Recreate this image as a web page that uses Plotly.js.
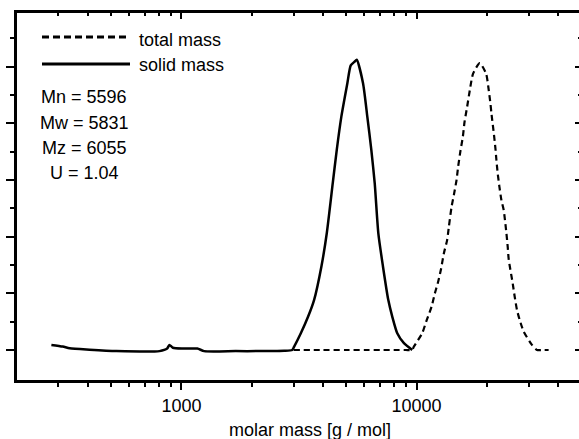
<!DOCTYPE html>
<html>
<head>
<meta charset="utf-8">
<script src="https://cdn.plot.ly/plotly-3.0.1.min.js"></script>
<style>
html, body { margin: 0; padding: 0; overflow: hidden; background: #fff; }
#chart { width: 590px; height: 439px; }
</style>
</head>
<body>
<div id="chart"></div>
<script>
// solid mass distribution (molar mass in g/mol, normalised signal)
const solidMass = [280, 313, 335, 407, 529, 807, 870, 889, 920, 1010, 1169, 1250, 1700, 2142, 2735, 2958, 3016, 3219, 3458, 3667, 3938, 4152, 4401, 4577, 4787, 5077, 5248, 5450, 5565, 5919, 6172, 6419, 6636, 6874, 7195, 7577, 7880, 8275, 8834, 9579];
const solidSignal = [0.018, 0.012, 0.006, 0.001, -0.004, -0.004, 0.005, 0.018, 0.008, 0.005, 0.005, -0.004, -0.004, -0.004, -0.003, 0.000, 0.012, 0.059, 0.118, 0.177, 0.295, 0.413, 0.589, 0.707, 0.824, 0.942, 1.005, 1.018, 1.025, 0.942, 0.824, 0.707, 0.589, 0.413, 0.295, 0.177, 0.118, 0.059, 0.024, 0.0];

// total mass distribution
const totalMass = [3000, 4000, 5000, 6000, 7000, 8000, 9000, 9579, 9739, 10563, 10983, 11578, 11958, 12350, 12717, 13056, 13484, 13713, 14078, 14399, 14783, 15017, 15373, 15721, 15987, 16397, 16834, 17385, 18563, 19742, 20268, 20606, 20808, 21342, 21636, 21847, 22126, 22496, 22941, 23464, 24093, 24400, 24638, 25624, 26130, 26722, 27437, 28524, 30943, 32493, 34500, 36415];
const totalSignal = [0, 0, 0, 0, 0, 0, 0, 0, 0.012, 0.059, 0.1, 0.153, 0.2, 0.241, 0.288, 0.341, 0.388, 0.435, 0.505, 0.547, 0.600, 0.647, 0.705, 0.752, 0.805, 0.858, 0.917, 0.976, 1.013, 0.976, 0.917, 0.870, 0.835, 0.758, 0.711, 0.670, 0.623, 0.576, 0.529, 0.494, 0.412, 0.364, 0.320, 0.235, 0.188, 0.141, 0.106, 0.065, 0.018, 0, 0, 0];

// ticks
const xMajorTicks = [1000, 10000];
const xMajorLabels = ['1000', '10000'];
const xMinorTicks = [300, 400, 500, 600, 700, 800, 900, 2000, 3000, 4000, 5000, 6000, 7000, 8000, 9000, 20000, 30000, 40000];
const yMajorTicks = [0, 0.2, 0.4, 0.6, 0.8, 1.0];
const yMinorTicks = [0.1, 0.3, 0.5, 0.7, 0.9, 1.1];

// legend / statistics text
const seriesNames = ['total mass', 'solid mass'];
const statLines = ['Mn = 5596', 'Mw = 5831', 'Mz = 6055', 'U = 1.04'];
const axisTitle = 'molar mass [g / mol]';

const FONT = '"Liberation Sans", Arial, sans-serif';
const xRange = [Math.log10(200), Math.log10(50000)];
const yRange = [-0.106, 1.19];

const traces = [
  { x: solidMass, y: solidSignal, type: 'scatter', mode: 'lines', name: seriesNames[1],
    line: { color: '#000', width: 2.5, shape: 'spline', smoothing: 0.6 }, showlegend: false, hoverinfo: 'skip' },
  { x: totalMass, y: totalSignal, type: 'scatter', mode: 'lines', name: seriesNames[0],
    xaxis: 'x2', yaxis: 'y2',
    line: { color: '#000', width: 2.2, dash: '6px,4px', shape: 'spline', smoothing: 0.6 }, showlegend: false, hoverinfo: 'skip' }
];

const W = 590, H = 439, L = 17, R = 9, T = 13, B = 59;
const pw = W - L - R, ph = H - T - B;
const px = v => (v - L) / pw;
const py = v => (H - B - v) / ph;

const annotations = [
  { text: seriesNames[0], x: px(137), y: py(40), xanchor: 'left', yanchor: 'middle' },
  { text: seriesNames[1], x: px(137), y: py(65), xanchor: 'left', yanchor: 'middle' },
  { text: statLines[0], x: px(84), y: py(97), xanchor: 'center', yanchor: 'middle' },
  { text: statLines[1], x: px(84), y: py(123.5), xanchor: 'center', yanchor: 'middle' },
  { text: statLines[2], x: px(84), y: py(148), xanchor: 'center', yanchor: 'middle' },
  { text: statLines[3], x: px(84), y: py(173), xanchor: 'center', yanchor: 'middle' },
  { text: axisTitle, x: px(310), y: py(430), xanchor: 'center', yanchor: 'middle' }
].map(a => Object.assign({ xref: 'paper', yref: 'paper', showarrow: false,
  font: { family: FONT, size: 18, color: '#000' } }, a));

const shapes = [
  { type: 'line', xref: 'paper', yref: 'paper', x0: px(42), x1: px(130), y0: py(37), y1: py(37),
    line: { color: '#000', width: 3, dash: '7px,4px' } },
  { type: 'line', xref: 'paper', yref: 'paper', x0: px(42), x1: px(130), y0: py(64), y1: py(64),
    line: { color: '#000', width: 3 } }
];

const axCommon = { showgrid: false, zeroline: false, showline: true, linecolor: '#000', linewidth: 3,
  tickcolor: '#000', tickwidth: 2 };

const layout = {
  width: W, height: H,
  margin: { l: L, r: R, t: T, b: B, pad: 0 },
  paper_bgcolor: '#fff', plot_bgcolor: '#fff',
  showlegend: false,
  font: { family: FONT, size: 18, color: '#000' },
  xaxis: Object.assign({}, axCommon, {
    type: 'log', range: xRange, tickmode: 'array', tickvals: xMajorTicks, ticktext: xMajorLabels,
    ticks: 'outside', ticklen: 7,
    minor: { tickmode: 'array', tickvals: xMinorTicks, ticks: 'outside', ticklen: 4, tickwidth: 2, tickcolor: '#000', showgrid: false },
    tickfont: { family: FONT, size: 18, color: '#000' }
  }),
  yaxis: Object.assign({}, axCommon, {
    range: yRange, tickmode: 'array', tickvals: yMajorTicks, showticklabels: false,
    ticks: 'outside', ticklen: 8,
    minor: { tickmode: 'array', tickvals: yMinorTicks, ticks: 'outside', ticklen: 4, tickwidth: 2, tickcolor: '#000', showgrid: false }
  }),
  xaxis2: Object.assign({}, axCommon, {
    type: 'log', range: xRange, overlaying: 'x', side: 'top', tickmode: 'array', tickvals: xMajorTicks,
    showticklabels: false, ticks: 'inside', ticklen: 6,
    minor: { tickmode: 'array', tickvals: xMinorTicks, ticks: 'inside', ticklen: 3, tickwidth: 2, tickcolor: '#000', showgrid: false }
  }),
  yaxis2: Object.assign({}, axCommon, {
    range: yRange, overlaying: 'y', side: 'right', tickmode: 'array', tickvals: yMajorTicks,
    showticklabels: false, ticks: 'inside', ticklen: 6,
    minor: { tickmode: 'array', tickvals: yMinorTicks, ticks: 'inside', ticklen: 3, tickwidth: 2, tickcolor: '#000', showgrid: false }
  }),
  annotations: annotations,
  shapes: shapes
};

Plotly.newPlot('chart', traces, layout, { staticPlot: true, displayModeBar: false });
</script>
</body>
</html>
